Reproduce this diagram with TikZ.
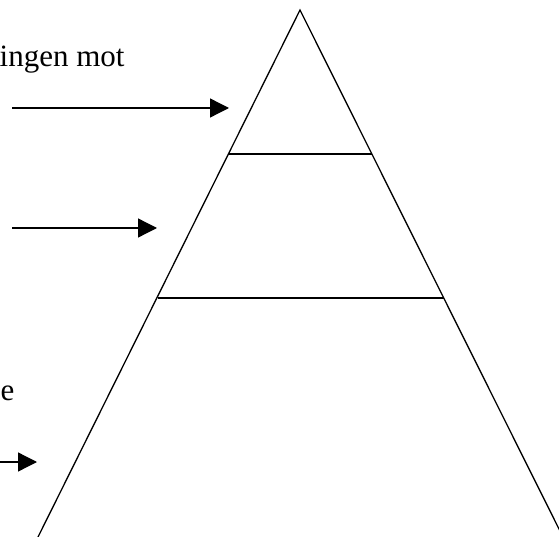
\documentclass[tikz,border=0pt]{standalone}
\usepackage{fontspec}
\setmainfont{Liberation Serif}
\usetikzlibrary{arrows.meta}

\begin{document}
\begin{tikzpicture}[x=1pt,y=-1pt,>={Triangle[length=19pt,width=19pt]},
  side/.style={line width=1.3pt},
  label/.style={inner sep=0pt,font=\fontsize{31}{37}\selectfont}]

\useasboundingbox (0,0) rectangle (559,537);

\coordinate (top) at (300,10);
\coordinate (l1) at (229,154);
\coordinate (r1) at (372,154);
\coordinate (l2) at (158,298);
\coordinate (r2) at (444,298);
\coordinate (bl) at (38,537);
\coordinate (br) at (563,537);

\draw[side] (bl) -- (top) -- (br);
\draw[side] (l1) -- (r1);
\draw[side] (l2) -- (r2);

\node[label,anchor=base west] (t1) at (-0.5,67) {ingen mot};
\node[label,anchor=base west] (t2) at (0.5,400) {e};

\coordinate (s1) at (12,108);
\coordinate (e1) at (229,108);
\coordinate (s2) at (12,228);
\coordinate (e2) at (157,228);
\coordinate (s3) at (0,462);
\coordinate (e3) at (37,462);

\draw[->,side] (s1) -- (e1);
\draw[->,side] (s2) -- (e2);
\draw[->,side] (s3) -- (e3);

\end{tikzpicture}
\end{document}
